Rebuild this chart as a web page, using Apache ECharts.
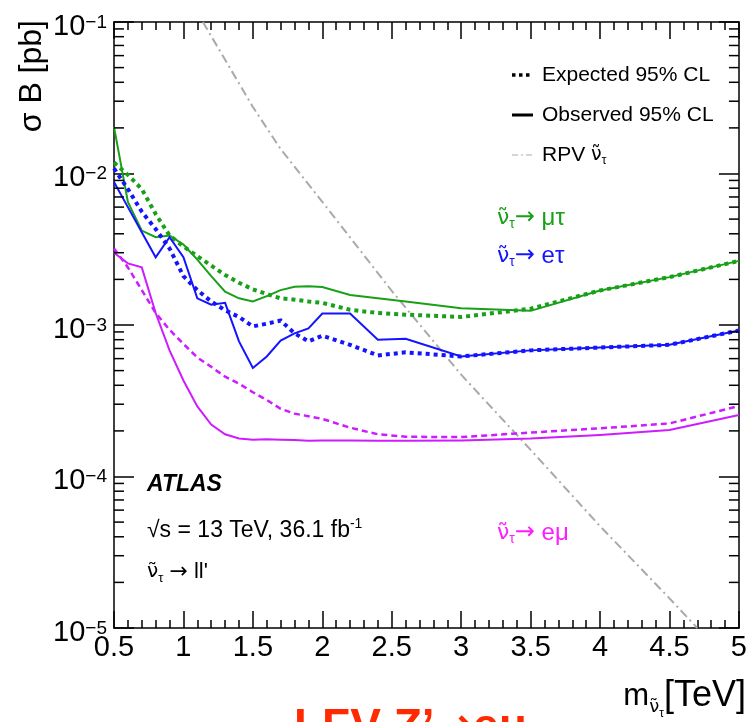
<!DOCTYPE html>
<html><head><meta charset="utf-8">
<script src="https://cdn.jsdelivr.net/npm/echarts@6/dist/echarts.min.js"></script>
<style>html,body{margin:0;padding:0;background:#fff}#c{width:750px;height:722px}</style>
</head><body><div id="c"></div>
<script>
// ---- data ----
const masses = [0.5,0.6,0.7,0.8,0.9,1.0,1.1,1.2,1.3,1.4,1.5,1.6,1.7,1.8,1.9,2.0,2.2,2.4,2.6,3.0,3.5,4.0,4.5,5.0];
const muTauObs = [0.0203,0.0065,0.0042,0.0038,0.0039,0.0034,0.0027,0.0021,0.00166,0.0015,0.00143,0.00155,0.0017,0.00179,0.0018,0.00178,0.00158,0.0015,0.00143,0.00129,0.00124,0.00169,0.00207,0.00265];
const muTauExp = [0.0118,0.0098,0.0079,0.0054,0.0039,0.0033,0.00285,0.00247,0.00214,0.0019,0.00172,0.0016,0.0015,0.00147,0.00143,0.0014,0.00126,0.0012,0.00117,0.00113,0.00128,0.00169,0.00207,0.00265];
const eTauObs = [0.0088,0.0060,0.0041,0.0028,0.0038,0.0028,0.0015,0.00136,0.0014,0.00078,0.00052,0.00062,0.00079,0.00088,0.00095,0.00119,0.00119,0.0008,0.00081,0.00062,0.00068,0.00071,0.00074,0.00092];
const eTauExp = [0.0108,0.0079,0.0056,0.0043,0.0032,0.0021,0.0017,0.00143,0.00125,0.00113,0.00098,0.00102,0.00107,0.00088,0.00078,0.00085,0.00074,0.00063,0.00066,0.00062,0.00068,0.00071,0.00074,0.00092];
const eMuObs = [0.0030,0.00255,0.0024,0.0012,0.00068,0.00043,0.00029,0.00022,0.00019,0.000178,0.000175,0.000176,0.000175,0.000174,0.000172,0.000173,0.000173,0.000172,0.000172,0.000173,0.000178,0.000188,0.000203,0.000255];
const eMuExp = [0.0032,0.0024,0.0017,0.0012,0.00093,0.00075,0.00061,0.00053,0.000456,0.00041,0.00036,0.00032,0.00028,0.00026,0.00025,0.00024,0.00021,0.00019,0.000183,0.000182,0.000195,0.000208,0.000224,0.000292];
const rpvMass = [1.14,1.5,1.7,2.0,2.5,3.0,3.5,4.0,4.5,4.7];
const rpvXs = [0.1,0.0275,0.0145,0.0065,0.00168,0.00047,0.00015,0.000047,0.0000157,0.00001];
const xTickLabels = ['0.5','1','1.5','2','2.5','3','3.5','4','4.5','5'];
const yDecades = [-5,-4,-3,-2,-1];
const yMinorFactors = [2,3,4,5,6,7,8,9];

// ---- styles ----
const FONT = '"Liberation Sans", Arial, Helvetica, sans-serif';
const TFONT = '"DejaVu Sans", sans-serif';
const GREEN = '#18a018', BLUE = '#1414ff', VIOLET = '#cc1cff', PINK = '#ff1cff', GRAY = '#aaaaaa';
const X_MIN = 0.5, X_MAX = 5;
const NU = '\u03bd\u0303';

const pts = (xs, ys) => xs.map((x, i) => [x, ys[i]]);
const yMinor = [];
yDecades.slice(0, -1).forEach(d => yMinorFactors.forEach(f => yMinor.push(f * Math.pow(10, d))));

function lineSeries(name, ys, color, width, type) {
  return { name, type: 'line', data: pts(masses, ys), symbol: 'none', clip: true, silent: true,
    lineStyle: { color, width, type, cap: 'butt', join: 'miter' }, z: 3 };
}
function nuLabel(x, y, pre, rest, color, size) {
  return { type: 'text', x, y, style: { text: '{v|' + NU + '}{t|\u03c4}{a|' + pre + '}{r|\u2192}{a|' + rest + '}', verticalAlign: 'middle',
    rich: { v: { fontSize: size - 2, fontFamily: TFONT, fill: color },
            t: { fontSize: Math.round(size * 0.58), fontFamily: FONT, fill: color, padding: [Math.round(size * 0.55), 0, 0, 0] },
            r: { fontSize: size, fontFamily: TFONT, fill: color },
            a: { fontSize: size, fontFamily: FONT, fill: color } } } };
}

const xAxisCommon = {
  type: 'value', min: X_MIN, max: X_MAX, interval: 0.5,
  axisLine: { show: true, onZero: false, lineStyle: { color: '#000', width: 1.5 } },
  axisTick: { show: true, inside: true, length: 17, lineStyle: { color: '#000', width: 1.5 } },
  minorTick: { show: true, splitNumber: 5, length: 8, lineStyle: { color: '#000', width: 1.5 } },
  splitLine: { show: false }, minorSplitLine: { show: false }
};
const yAxisCommon = {
  type: 'log', logBase: 10, min: 1e-5, max: 1e-1,
  axisLine: { show: true, onZero: false, lineStyle: { color: '#000', width: 1.5 } },
  axisTick: { show: true, inside: true, length: 20, lineStyle: { color: '#000', width: 1.5 } },
  minorTick: { show: false }, splitLine: { show: false }
};

const option = {
  animation: false,
  backgroundColor: '#fff',
  grid: { left: 114, right: 4, top: 22, bottom: 94, containLabel: false },
  xAxis: [
    Object.assign({}, xAxisCommon, { position: 'bottom',
      axisLabel: { show: true, margin: 5, fontSize: 29, fontFamily: FONT, color: '#000',
        formatter: v => { const i = Math.round((v - X_MIN) / 0.5); return xTickLabels[i] || ''; } } }),
    Object.assign({}, xAxisCommon, { position: 'top', axisLabel: { show: false } })
  ],
  yAxis: [
    Object.assign({}, yAxisCommon, { position: 'left',
      axisLabel: { show: true, margin: 7, padding: [9, 0, 0, 0],
        formatter: v => { const e = Math.round(Math.log10(v)); return '{b|10}{s|\u2212' + (-e) + '}'; },
        rich: { b: { fontSize: 29, fontFamily: FONT, color: '#000' },
                s: { fontSize: 19, fontFamily: FONT, color: '#000', padding: [0, 0, 8, 0] } } } }),
    Object.assign({}, yAxisCommon, { position: 'right', axisLabel: { show: false } })
  ],
  series: [
    { type: 'custom', coordinateSystem: 'cartesian2d', data: yMinor.map(v => [X_MIN, v]), clip: false, silent: true, z: 5,
      renderItem: (params, api) => {
        const v = api.value(1);
        const l = api.coord([X_MIN, v]), r = api.coord([X_MAX, v]);
        const st = { stroke: '#000', lineWidth: 1.5 };
        return { type: 'group', children: [
          { type: 'line', shape: { x1: l[0], y1: l[1], x2: l[0] + 10, y2: l[1] }, style: st },
          { type: 'line', shape: { x1: r[0] - 10, y1: r[1], x2: r[0], y2: r[1] }, style: st }
        ] };
      } },
    { name: 'RPV', type: 'line', data: pts(rpvMass, rpvXs), symbol: 'none', clip: true, silent: true,
      lineStyle: { color: GRAY, width: 2, type: [9, 4, 2, 4] }, z: 2 },
    lineSeries('mutau exp', muTauExp, GREEN, 4, [4, 4]),
    lineSeries('mutau obs', muTauObs, GREEN, 2, 'solid'),
    lineSeries('etau exp', eTauExp, BLUE, 4, [4, 4]),
    lineSeries('etau obs', eTauObs, BLUE, 2, 'solid'),
    lineSeries('emu exp', eMuExp, VIOLET, 2.5, [6, 4]),
    lineSeries('emu obs', eMuObs, VIOLET, 2, 'solid')
  ],
  graphic: [
    // y-axis title
    { type: 'text', x: 32, y: 20, rotation: Math.PI / 2,
      style: { text: '\u03c3 B [pb]', font: '32px ' + FONT, fill: '#000', align: 'right', verticalAlign: 'middle' } },
    // x-axis title
    { type: 'text', x: 746, y: 696,
      style: { text: '{m|m}{v|' + NU + '}{t|\u03c4}{n|[TeV]}', align: 'right', verticalAlign: 'middle',
        rich: { m: { fontSize: 31, fontFamily: FONT, fill: '#000' },
                v: { fontSize: 18, fontFamily: TFONT, fill: '#000', padding: [22, 0, 0, 0] },
                t: { fontSize: 12, fontFamily: FONT, fill: '#000', padding: [36, 0, 0, 0] },
                n: { fontSize: 36, fontFamily: FONT, fill: '#000' } } } },
    // legend
    { type: 'line', shape: { x1: 512, y1: 75, x2: 533, y2: 75 }, style: { stroke: '#000', lineWidth: 3.5, lineDash: [3.5, 3.5] } },
    { type: 'text', x: 542, y: 75, style: { text: 'Expected 95% CL', font: '21px ' + FONT, fill: '#000', verticalAlign: 'middle' } },
    { type: 'line', shape: { x1: 512, y1: 115, x2: 533, y2: 115 }, style: { stroke: '#000', lineWidth: 3 } },
    { type: 'text', x: 542, y: 115, style: { text: 'Observed 95% CL', font: '21px ' + FONT, fill: '#000', verticalAlign: 'middle' } },
    { type: 'line', shape: { x1: 512, y1: 155, x2: 533, y2: 155 }, style: { stroke: '#c8c8c8', lineWidth: 1.5, lineDash: [6, 3, 2, 3] } },
    { type: 'text', x: 542, y: 155, style: { text: '{a|RPV }{v|' + NU + '}{t|\u03c4}', verticalAlign: 'middle',
        rich: { a: { fontSize: 21, fontFamily: FONT, fill: '#000' }, v: { fontSize: 19, fontFamily: TFONT, fill: '#000' },
                t: { fontSize: 12, fontFamily: FONT, fill: '#000', padding: [12, 0, 0, 0] } } } },
    // channel labels
    nuLabel(497, 218, '', ' \u03bc\u03c4', GREEN, 24),
    nuLabel(497, 256, '', ' e\u03c4', BLUE, 24),
    nuLabel(497, 533, '', ' e\u03bc', PINK, 24),
    // ATLAS block
    { type: 'text', x: 147, y: 485, style: { text: 'ATLAS', font: 'italic bold 23px ' + FONT, fill: '#000', verticalAlign: 'middle' } },
    { type: 'text', x: 147, y: 531, style: { text: '{a|\u221as = 13 TeV, 36.1 fb}{s|-1}', verticalAlign: 'middle',
        rich: { a: { fontSize: 23, fontFamily: FONT, fill: '#000' }, s: { fontSize: 14, fontFamily: FONT, fill: '#000', padding: [0, 0, 14, 0] } } } },
    nuLabel(147, 572, ' ', ' ll\'', '#000', 22),
    // cut-off slide title
    { type: 'text', x: 294, y: 705, style: { text: '{a|LFV Z\u2019}{r|\u2192}{a|e\u03bc}', verticalAlign: 'top',
        rich: { a: { fontSize: 46, fontWeight: 'bold', fontFamily: FONT, fill: '#ff2a00' },
                r: { fontSize: 46, fontWeight: 'bold', fontFamily: TFONT, fill: '#ff2a00' } } } }
  ]
};
const chart = echarts.init(document.getElementById('c'), null, { renderer: 'canvas' });
chart.setOption(option);
</script></body></html>
